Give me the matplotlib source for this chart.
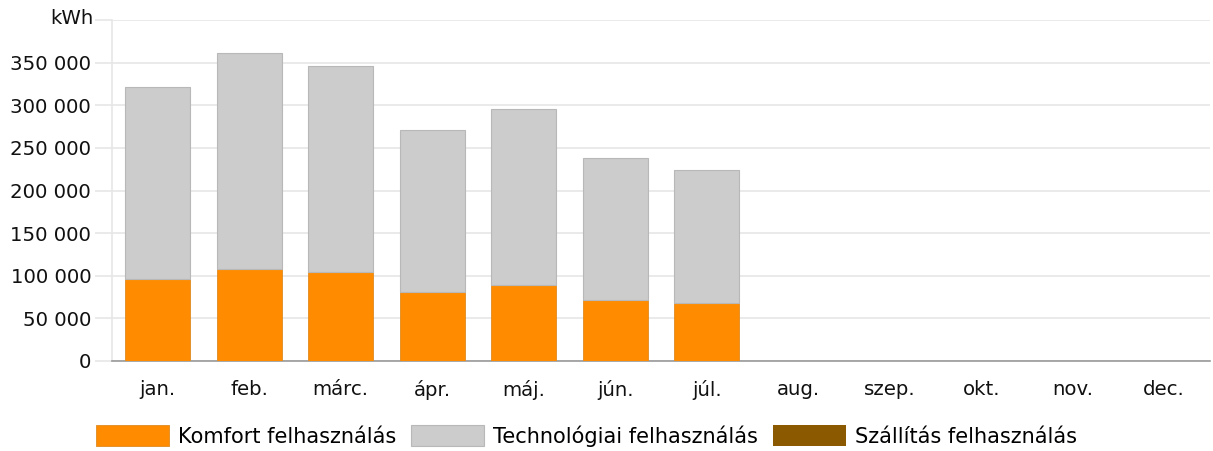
import numpy as np
import matplotlib.pyplot as plt
from matplotlib.ticker import FuncFormatter

honapok = ["jan.", "feb.", "márc.", "ápr.", "máj.", "jún.", "júl.",
           "aug.", "szep.", "okt.", "nov.", "dec."]
# kWh
komfort = [96600, 108400, 104400, 80900, 88800, 72000, 68000, 0, 0, 0, 0, 0]
osszes = [321400, 361700, 346000, 270600, 296000, 238000, 224500, 0, 0, 0, 0, 0]
technologiai = [o - k for o, k in zip(osszes, komfort)]
szallitas = [0] * 12

szinek = {"komfort": "#ff8c00", "tech": "#cccccc", "szall": "#8b5a00"}

fig = plt.figure(figsize=(12.13, 4.51), dpi=100)
ax = fig.add_axes([112 / 1213, 90 / 451, 1098 / 1213, 341 / 451])

x = np.arange(len(honapok))
w = 0.71
b1 = ax.bar(x, komfort, w, color=szinek["komfort"], edgecolor="#e08a20", linewidth=0.6,
            label="Komfort felhasználás", zorder=3)
b2 = ax.bar(x, technologiai, w, bottom=komfort, color=szinek["tech"], edgecolor="#b8b8b8",
            linewidth=0.8, label="Technológiai felhasználás", zorder=3)
b3 = ax.bar(x, szallitas, w, bottom=osszes, color=szinek["szall"], linewidth=0,
            label="Szállítás felhasználás", zorder=3)

ax.set_xlim(-0.5, 11.5)
ax.set_ylim(0, 400000)
ax.set_yticks(np.arange(0, 400001, 50000))
ax.yaxis.set_major_formatter(FuncFormatter(
    lambda v, p: "" if v >= 400000 else f"{int(v):,}".replace(",", " ")))
ax.set_xticks(x)
ax.set_xticklabels(honapok)

ax.grid(axis="y", color="#e6e6e6", linewidth=1.2, zorder=0)
for s in ["top", "right"]:
    ax.spines[s].set_visible(False)
ax.spines["left"].set_color("#e6e6e6")
ax.spines["left"].set_linewidth(1.2)
ax.spines["bottom"].set_color("#999999")
ax.spines["bottom"].set_linewidth(1.2)
ax.tick_params(axis="y", length=12, color="#e6e6e6", width=1.2, labelsize=14.2,
               pad=3, labelcolor="#111111")
ax.tick_params(axis="x", length=0, pad=14, labelsize=14.2, labelcolor="#111111")

fig.text(93 / 1213, 1 - 19 / 451, "kWh", ha="right", va="center", fontsize=14.2, color="#111111")

fig.legend(handles=[b1, b2, b3], loc="center left", bbox_to_anchor=(96 / 1213, 15 / 451),
           ncol=3, frameon=False, fontsize=15, handlelength=3.5, handleheight=1.15,
           handletextpad=0.43, columnspacing=0.72, borderpad=0, borderaxespad=0)

fig.savefig("out.png", dpi=100)
